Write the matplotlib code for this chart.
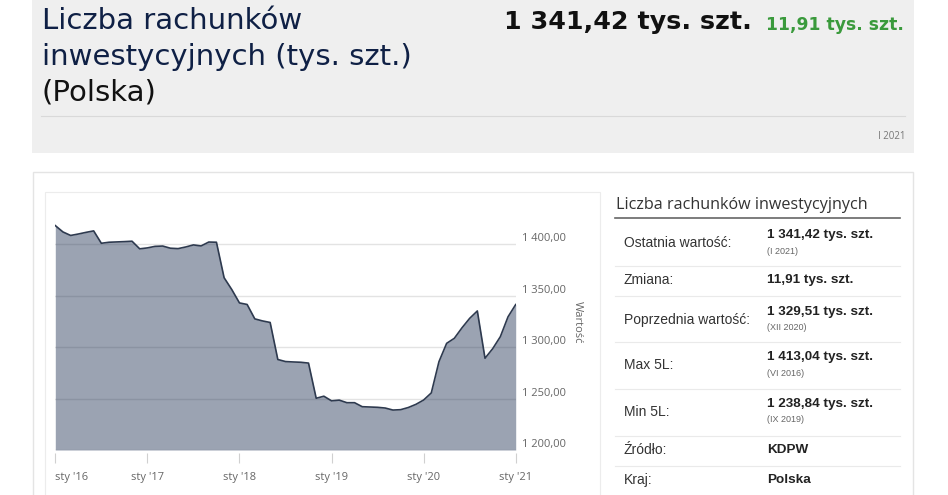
import matplotlib
matplotlib.use("Agg")
import matplotlib.pyplot as plt
import matplotlib.transforms as mtransforms
from matplotlib.patches import Rectangle
from matplotlib.lines import Line2D

# ---------------- data ----------------
months = list(range(61))  # Jan 2016 .. Jan 2021
values = [
    1418.2, 1412.0, 1408.6, 1410.0, 1411.6, 1413.04, 1401.0, 1402.0, 1402.3, 1402.6, 1403.0, 1395.6,
    1396.5, 1398.0, 1398.3, 1396.2, 1395.8, 1397.4, 1399.4, 1398.4, 1402.2, 1402.0, 1367.5, 1356.0,
    1343.0, 1341.5, 1327.5, 1325.5, 1324.0, 1288.0, 1286.0, 1285.6, 1285.3, 1284.5, 1250.3, 1252.3,
    1247.8, 1248.5, 1246.0, 1246.0, 1242.1, 1241.8, 1241.5, 1240.8, 1238.84, 1239.2, 1241.3, 1244.4,
    1248.6, 1255.5, 1285.9, 1303.7, 1308.6, 1318.8, 1328.0, 1335.2, 1289.2, 1298.5, 1310.2, 1329.51,
    1341.42,
]
xtick_pos = [0, 12, 24, 36, 48, 60]
xtick_labels = ["sty '16", "sty '17", "sty '18", "sty '19", "sty '20", "sty '21"]
ytick_vals = [1200, 1250, 1300, 1350, 1400]

title_lines = ["Liczba rachunków", "inwestycyjnych (tys. szt.)", "(Polska)"]
head_value = "1 341,42 tys. szt."
head_change = "11,91 tys. szt."
head_date = "I 2021"

table_title = "Liczba rachunków inwestycyjnych"
row_labels = ["Ostatnia wartość:", "Zmiana:", "Poprzednia wartość:", "Max 5L:", "Min 5L:", "Źródło:", "Kraj:"]
row_values = ["1 341,42 tys. szt.", "11,91 tys. szt.", "1 329,51 tys. szt.", "1 413,04 tys. szt.",
              "1 238,84 tys. szt.", "KDPW", "Polska"]
row_notes = ["(I 2021)", "", "(XII 2020)", "(VI 2016)", "(IX 2019)", "", ""]

# ---------------- layout helpers ----------------
W, H = 948, 495
fig = plt.figure(figsize=(W / 100, H / 100), dpi=100)
fig.patch.set_facecolor("white")


def fx(x):
    return x / W


def fy(y):
    return 1 - y / H


def fit(t, target_w):
    r = fig.canvas.get_renderer()
    w = t.get_window_extent(r).width
    if w > 0:
        t.set_fontsize(t.get_fontsize() * target_w / w)


# header grey box
fig.patches.append(Rectangle((fx(32), fy(152.5)), fx(914) - fx(32), fy(0) - fy(152.5),
                             transform=fig.transFigure, facecolor="#efefef", edgecolor="none",
                             zorder=-5))
fig.lines.append(Line2D([fx(41), fx(905)], [fy(116), fy(116)], transform=fig.transFigure,
                        color="#d9d9d9", lw=0.8, zorder=-4))

# white panel border
fig.patches.append(Rectangle((fx(32.5), fy(520)), fx(912.5) - fx(32.5), fy(172) - fy(520),
                             transform=fig.transFigure, facecolor="white", edgecolor="#e4e4e4",
                             lw=1.0, zorder=-5))
# chart frame border
fig.patches.append(Rectangle((fx(44.5), fy(520)), fx(600) - fx(44.5), fy(192) - fy(520),
                             transform=fig.transFigure, facecolor="white", edgecolor="#ececec",
                             lw=0.8, zorder=-4))

head_font = ["DejaVu Sans"]
navy = "#0f2045"
baselines = [29.3, 65, 100.5]
title_colors = [navy, navy, "#111111"]
for line, b, c in zip(title_lines, baselines, title_colors):
    fig.text(fx(42), fy(b), line, fontsize=21, color=c, family=head_font,
             va="baseline", ha="left")

tv = fig.text(fx(752), fy(29.5), head_value, fontsize=20, fontweight="bold", color="#111111",
              family=head_font, va="baseline", ha="right")
fit(tv, 247)
tc = fig.text(fx(904), fy(29.5), head_change, fontsize=13, fontweight="bold", color="#3a9a3c",
              family=head_font, va="baseline", ha="right")
fit(tc, 137)
td = fig.text(fx(905), fy(139.5), head_date, fontsize=7, color="#777777",
              family=["Open Sans", "DejaVu Sans"], va="baseline", ha="right")

# ---------------- chart ----------------
ax_left, ax_right, ax_top, ax_bot = 55.3, 515.7, 215, 450
ax = fig.add_axes([fx(ax_left), fy(ax_bot), fx(ax_right) - fx(ax_left), fy(ax_top) - fy(ax_bot)])
ax.set_facecolor("none")
ymin = 1200
ymax = 1400 + (244.3 - ax_top) / 1.0285
ax.set_xlim(0, 60)
ax.set_ylim(ymin, ymax)

for v in ytick_vals:
    ax.axhline(v, color="#e3e3e3", lw=1.0, zorder=1)

ax.fill_between(months, values, ymin, color="#213354", alpha=0.45, lw=0, zorder=2)
ax.plot(months, values, color="#2e3a4f", lw=1.2, zorder=3)

for s in ax.spines.values():
    s.set_visible(False)

ax.set_xticks(xtick_pos)
ax.set_xticklabels(xtick_labels)
ax.tick_params(axis="x", length=7, width=0.8, color="#d0d0d0", labelsize=8, labelcolor="#666666",
               pad=9, direction="out")
xlabs = ax.get_xticklabels()
for lab in xlabs:
    lab.set_family(["Open Sans", "DejaVu Sans"])
xlabs[0].set_ha("left")
offset = mtransforms.ScaledTranslation(0, -3 / 100, fig.dpi_scale_trans)
for tl in ax.xaxis.get_major_ticks():
    tl.tick1line.set_transform(tl.tick1line.get_transform() + offset)

ax.yaxis.tick_right()
ax.set_yticks(ytick_vals)
ax.set_yticklabels([f"{v // 1000} {v % 1000:03d},00" for v in ytick_vals])
ax.tick_params(axis="y", length=0, labelsize=8, labelcolor="#666666", pad=4.5)
for lab in ax.get_yticklabels():
    lab.set_family(["Open Sans", "DejaVu Sans"])
    lab.set_va("bottom")

fig.text(fx(577), fy(322), "Wartość", rotation=270, fontsize=8, color="#666666",
         family=["Open Sans", "DejaVu Sans"], ha="center", va="center")

# ---------------- table ----------------
tt = fig.text(fx(616), fy(209), table_title, fontsize=12, color="#333333",
              family=["Open Sans", "DejaVu Sans"], va="baseline", ha="left")
fit(tt, 250)
fig.lines.append(Line2D([fx(615), fx(900)], [fy(218.3), fy(218.3)], transform=fig.transFigure,
                        color="#666666", lw=1.2))
for yy in [265.7, 295.7, 342.3, 389, 435.7, 465.7]:
    fig.lines.append(Line2D([fx(615), fx(900)], [fy(yy), fy(yy)], transform=fig.transFigure,
                            color="#eaeaea", lw=0.8))

label_y = [242.7, 280, 320, 365, 411.7, 450, 480]
value_y = [235, 280, 311.7, 357, 404, 450, 480]
note_y = [251.5, None, 327, 374, 420, None, None]
tab_font = ["Liberation Sans", "DejaVu Sans"]
for lab, val, note, ly, vy, ny in zip(row_labels, row_values, row_notes, label_y, value_y, note_y):
    fig.text(fx(624), fy(ly), lab, fontsize=10.0, color="#333333", family=tab_font,
             va="center", ha="left")
    fig.text(fx(767), fy(vy), val, fontsize=9.7, fontweight="bold", color="#222222",
             family=tab_font, va="center", ha="left")
    if note:
        fig.text(fx(767), fy(ny), note, fontsize=6.5, color="#666666", family=tab_font,
                 va="center", ha="left")

fig.savefig("out.png", dpi=100, facecolor="white")
